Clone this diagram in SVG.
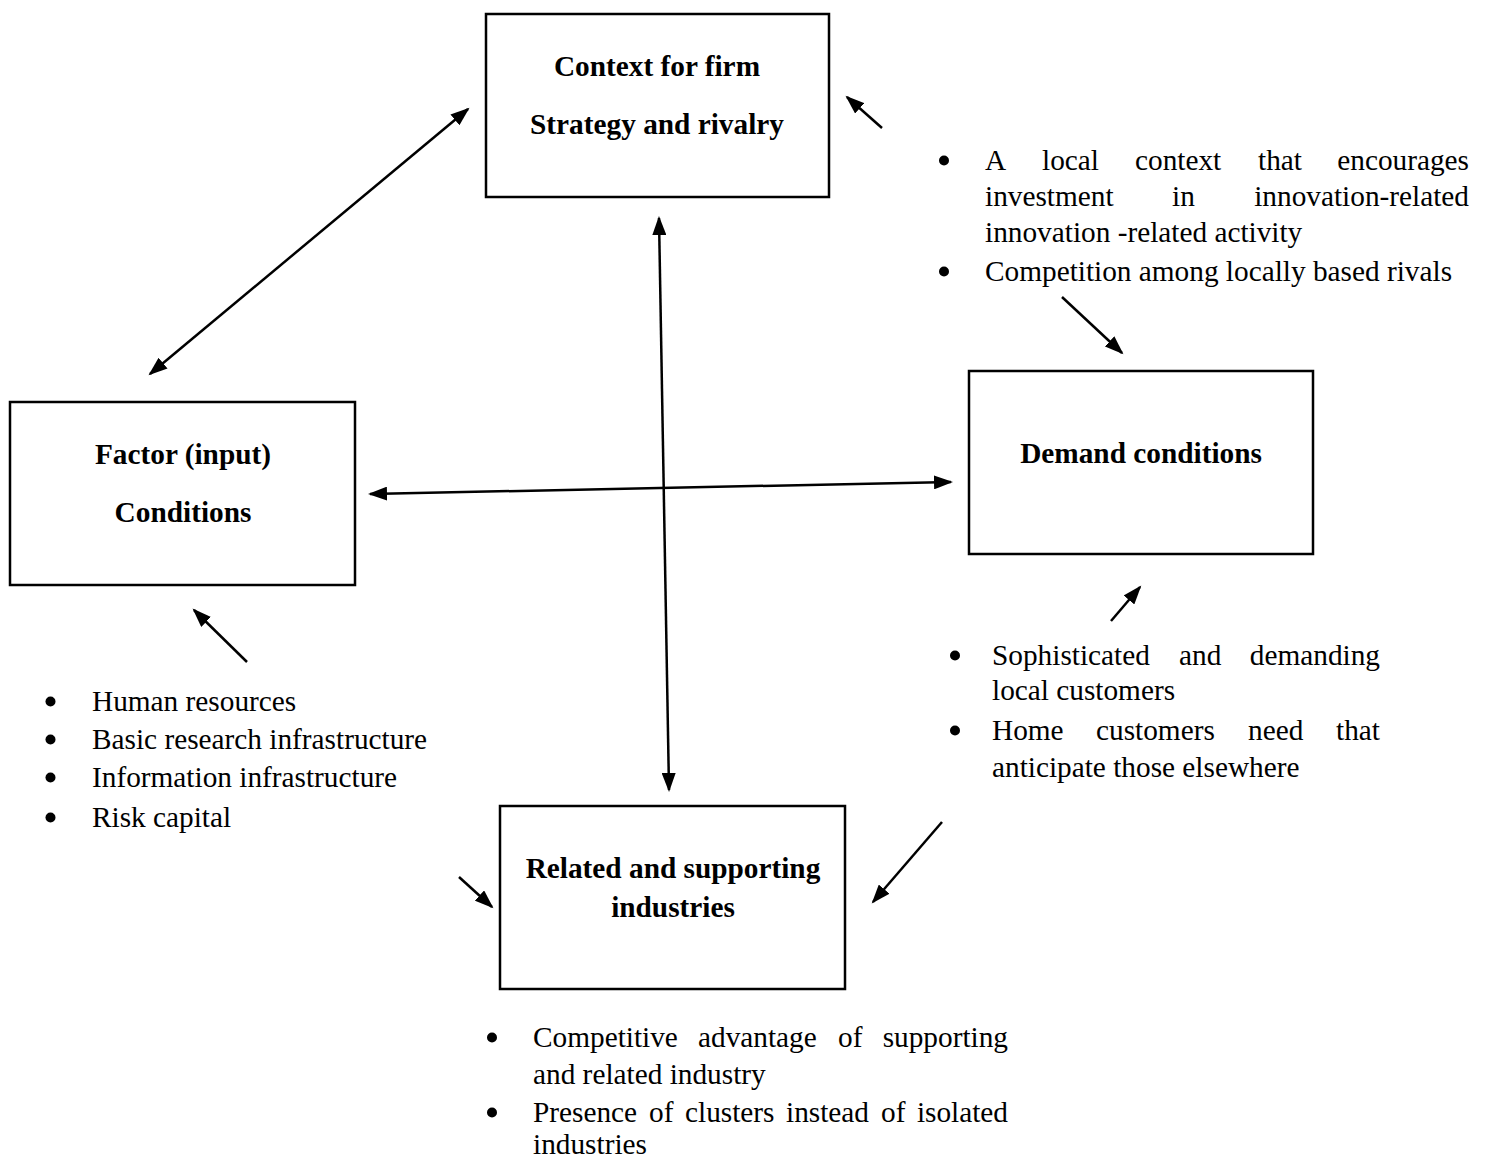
<svg xmlns="http://www.w3.org/2000/svg" width="1485" height="1159" viewBox="0 0 1485 1159">
  <style>
    .box { fill: none; stroke: #000; stroke-width: 2.5; }
    .title { font-family: "Liberation Serif", "Times New Roman", serif; font-size: 29.3px; font-weight: bold; text-anchor: middle; fill: #000; }
    .body { font-family: "Liberation Serif", "Times New Roman", serif; font-size: 29.3px; fill: #000; }
    .end { text-anchor: end; }
    .dot { fill: #000; }
    .link { fill: none; stroke: #000; stroke-width: 2.5; }
  </style>
  <defs>
    <marker id="head" markerUnits="userSpaceOnUse" markerWidth="20" markerHeight="14" refX="17" refY="7" orient="auto-start-reverse">
      <path d="M0,0 L19,7 L0,14 z" fill="#000"/>
    </marker>
  </defs>
  <rect width="1485" height="1159" fill="#fff"/>

  <!-- Firm strategy, structure and rivalry -->
  <g id="node-strategy">
    <rect class="box" x="486" y="14" width="343" height="183"/>
    <text class="title" x="657" y="76">Context for firm</text>
    <text class="title" x="657" y="134">Strategy and rivalry</text>
  </g>

  <!-- Factor conditions -->
  <g id="node-factor">
    <rect class="box" x="10" y="402" width="345" height="183"/>
    <text class="title" x="183" y="464">Factor (input)</text>
    <text class="title" x="183" y="522">Conditions</text>
  </g>

  <!-- Demand conditions -->
  <g id="node-demand">
    <rect class="box" x="969" y="371" width="344" height="183"/>
    <text class="title" x="1141" y="463">Demand conditions</text>
  </g>

  <!-- Related and supporting industries -->
  <g id="node-related">
    <rect class="box" x="500" y="806" width="345" height="183"/>
    <text class="title" x="673" y="878">Related and supporting</text>
    <text class="title" x="673" y="917">industries</text>
  </g>

  <!-- Connectors between the four determinants and from the notes -->
  <g id="connectors">
    <line class="link" x1="468" y1="109" x2="150" y2="374" marker-start="url(#head)" marker-end="url(#head)"/>
    <line class="link" x1="659" y1="218" x2="669" y2="790" marker-start="url(#head)" marker-end="url(#head)"/>
    <line class="link" x1="370" y1="494" x2="951" y2="482" marker-start="url(#head)" marker-end="url(#head)"/>
    <line class="link" x1="882" y1="128" x2="847" y2="97" marker-end="url(#head)"/>
    <line class="link" x1="1062" y1="297" x2="1122" y2="353" marker-end="url(#head)"/>
    <line class="link" x1="1111" y1="621" x2="1140" y2="587" marker-end="url(#head)"/>
    <line class="link" x1="247" y1="662" x2="194" y2="610" marker-end="url(#head)"/>
    <line class="link" x1="459" y1="877" x2="492" y2="907" marker-end="url(#head)"/>
    <line class="link" x1="942" y1="822" x2="873" y2="902" marker-end="url(#head)"/>
  </g>

  <!-- Notes on firm strategy -->
  <g id="notes-strategy">
    <circle class="dot" cx="944" cy="160.5" r="5"/>
    <text class="body" y="170"><tspan x="985">A</tspan><tspan x="1042">local</tspan><tspan x="1135">context</tspan><tspan x="1258">that</tspan></text>
    <text class="body end" x="1469" y="170">encourages</text>
    <text class="body" y="206"><tspan x="985">investment</tspan><tspan x="1172">in</tspan></text>
    <text class="body end" x="1469" y="206">innovation-related</text>
    <text class="body" x="985" y="242">innovation -related activity</text>
    <circle class="dot" cx="944" cy="271.5" r="5"/>
    <text class="body" x="985" y="281">Competition among locally based rivals</text>
  </g>

  <!-- Notes on factor conditions -->
  <g id="notes-factor">
    <circle class="dot" cx="50.5" cy="701.5" r="5"/>
    <text class="body" x="92" y="711">Human resources</text>
    <circle class="dot" cx="50.5" cy="739.5" r="5"/>
    <text class="body" x="92" y="749">Basic research infrastructure</text>
    <circle class="dot" cx="50.5" cy="777.5" r="5"/>
    <text class="body" x="92" y="787">Information infrastructure</text>
    <circle class="dot" cx="50.5" cy="817.5" r="5"/>
    <text class="body" x="92" y="827">Risk capital</text>
  </g>

  <!-- Notes on demand conditions -->
  <g id="notes-demand">
    <circle class="dot" cx="955" cy="655.5" r="5"/>
    <text class="body" y="665"><tspan x="992">Sophisticated</tspan><tspan x="1179">and</tspan></text>
    <text class="body end" x="1380" y="665">demanding</text>
    <text class="body" x="992" y="700">local customers</text>
    <circle class="dot" cx="955" cy="730.5" r="5"/>
    <text class="body" y="740"><tspan x="992">Home</tspan><tspan x="1096">customers</tspan><tspan x="1248">need</tspan></text>
    <text class="body end" x="1380" y="740">that</text>
    <text class="body" x="992" y="777">anticipate those elsewhere</text>
  </g>

  <!-- Notes on related and supporting industries -->
  <g id="notes-related">
    <circle class="dot" cx="492" cy="1037.5" r="5"/>
    <text class="body" y="1047"><tspan x="533">Competitive</tspan><tspan x="698">advantage</tspan><tspan x="838">of</tspan></text>
    <text class="body end" x="1008" y="1047">supporting</text>
    <text class="body" x="533" y="1084">and related industry</text>
    <circle class="dot" cx="492" cy="1112.5" r="5"/>
    <text class="body" y="1122"><tspan x="533">Presence</tspan><tspan x="649">of</tspan><tspan x="685">clusters</tspan><tspan x="786">instead</tspan><tspan x="881">of</tspan></text>
    <text class="body end" x="1008" y="1122">isolated</text>
    <text class="body" x="533" y="1154">industries</text>
  </g>
</svg>
